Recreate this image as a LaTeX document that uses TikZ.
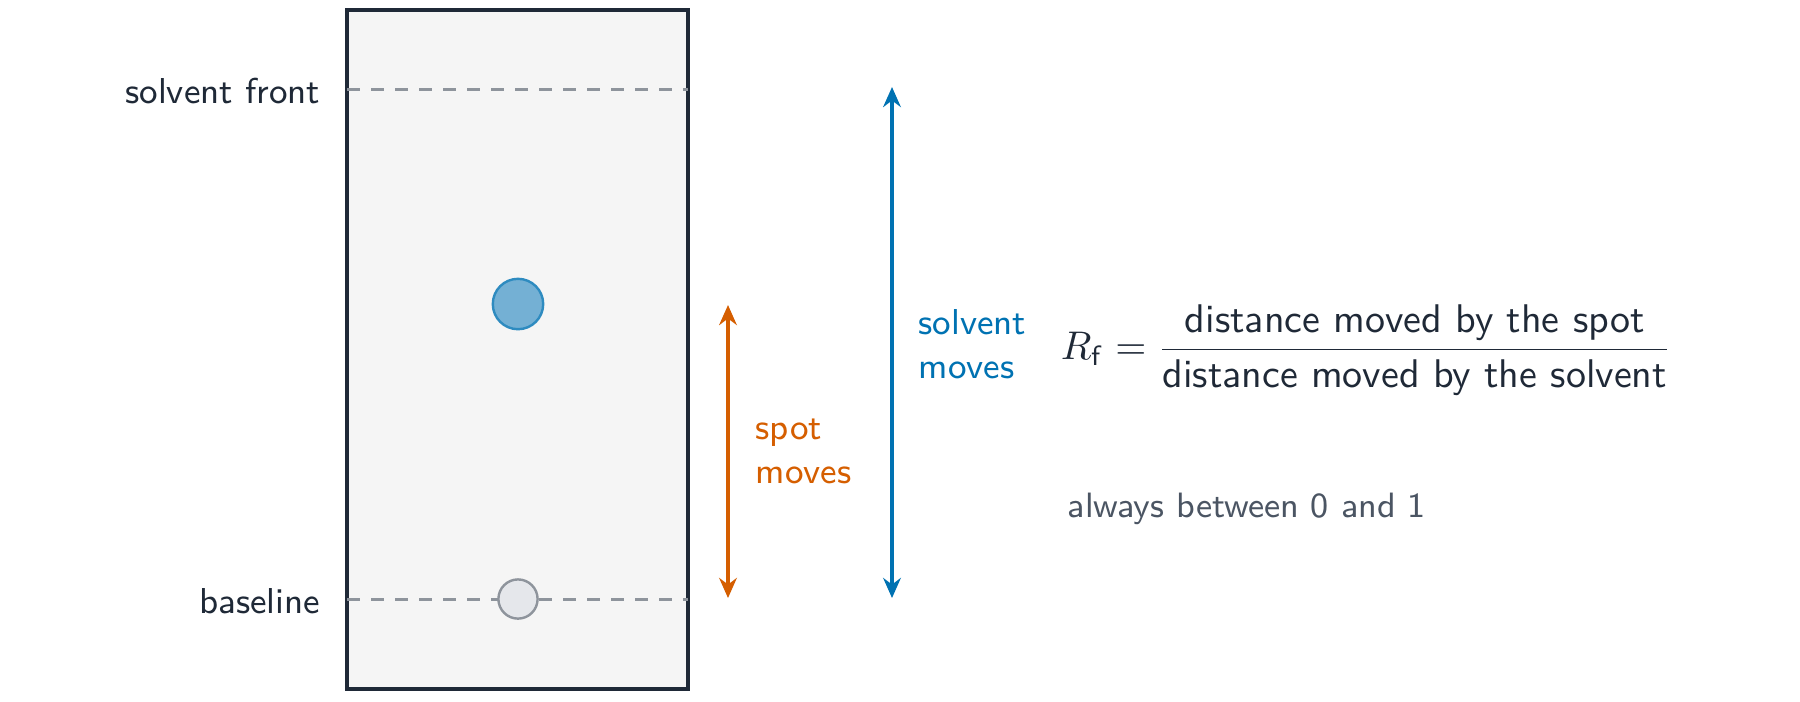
\documentclass[tikz,border=0pt]{standalone}
\usetikzlibrary{arrows.meta,calc}
\definecolor{ink}{HTML}{1F2937}
\definecolor{paper}{HTML}{F5F5F5}
\definecolor{dashgrey}{HTML}{8E949C}
\definecolor{spotfill}{HTML}{74B0D4}
\definecolor{spotdraw}{HTML}{2E8BC0}
\definecolor{basefill}{HTML}{E5E7EB}
\definecolor{orangeA}{HTML}{D55E00}
\definecolor{blueA}{HTML}{0072B2}
\definecolor{note}{HTML}{4B5563}
\tikzset{
  plate/.style={draw=ink, fill=paper, line width=1pt, minimum width=85.25pt, minimum height=169.75pt, inner sep=0pt, outer sep=0pt},
  guide/.style={draw=dashgrey, line width=0.75pt, dash pattern=on 3.3pt off 2.7pt},
  spotup/.style={circle, draw=spotdraw, fill=spotfill, line width=0.6pt, minimum size=12.6pt, inner sep=0pt},
  spotbase/.style={circle, draw=dashgrey, fill=basefill, line width=0.6pt, minimum size=9.8pt, inner sep=0pt},
  dimarrow/.style={line width=1pt, {Stealth[length=5pt,width=4.4pt]}-{Stealth[length=5pt,width=4.4pt]}},
  lbl/.style={text=ink, inner sep=0pt},
  movelbl/.style={inner sep=0pt, align=left}
}
\begin{document}
\begin{tikzpicture}[x=0.25pt,y=-0.25pt, font=\sffamily\fontsize{9}{10.8}\selectfont]
\useasboundingbox (0,0) rectangle (1800,701);
\node[plate] (plate) at (517.5,349.5) {};
\coordinate (frontL) at (347,89);
\coordinate (frontR) at (688,89);
\coordinate (baseL) at (347,599);
\coordinate (baseR) at (688,599);
\draw[guide] (frontL) -- (frontR);
\draw[guide] (baseL) -- (baseR);
\node[spotbase] (origin) at (518,599) {};
\node[spotup] (spot) at (518,304) {};
\node[lbl, anchor=east] (frontlbl) at (321,91) {solvent front};
\node[lbl, anchor=east] (baselbl) at (321,601) {baseline};
\coordinate (oT) at (728,305);
\coordinate (oB) at (728,598);
\coordinate (bT) at (892,87);
\coordinate (bB) at (892,598);
\draw[dimarrow, orangeA] (oT) -- (oB);
\draw[dimarrow, blueA] (bT) -- (bB);
\node[movelbl, text=orangeA, anchor=base west] (spotlbl) at (755,483) {spot\\moves};
\node[movelbl, text=blueA, anchor=base west] (solvlbl) at (918,378) {solvent\\moves};
\node[text=ink, anchor=west, inner sep=0pt, font=\sffamily\fontsize{10}{12}\selectfont] (rf) at (1060,350) {$\displaystyle R_{\mathsf{f}} = \frac{\mbox{\sffamily distance moved by the spot}}{\mbox{\sffamily distance moved by the solvent}}$};
\node[text=note, anchor=base west, inner sep=0pt, font=\sffamily\fontsize{8.8}{10}\selectfont] (range) at (1067,517) {always between 0 and 1};
\end{tikzpicture}
\end{document}
